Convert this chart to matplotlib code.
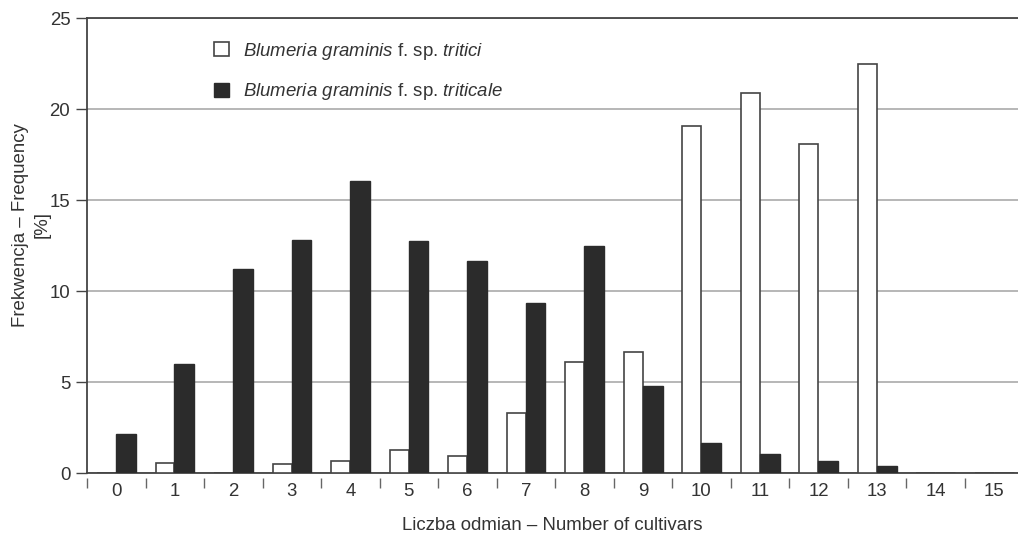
import matplotlib
matplotlib.use("Agg")
import matplotlib.pyplot as plt
import numpy as np
from matplotlib.patches import Patch

plt.rcParams['font.family'] = ['Liberation Sans', 'DejaVu Sans']
plt.rcParams['mathtext.fontset'] = 'custom'
plt.rcParams['mathtext.rm'] = 'Liberation Sans'
plt.rcParams['mathtext.it'] = 'Liberation Sans:italic'

categories = list(range(16))
tick_labels = [str(c) for c in categories]
tritici = [0, 0.58, 0, 0.5, 0.69, 1.27, 0.97, 3.3, 6.1, 6.65, 19.1, 20.9, 18.1, 22.5, 0, 0]
triticale = [2.15, 6.0, 11.25, 12.8, 16.05, 12.75, 11.65, 9.35, 12.5, 4.8, 1.65, 1.05, 0.7, 0.42, 0, 0]

label_tritici = r"$\it{Blumeria\ graminis}$ f. sp. $\it{tritici}$"
label_triticale = r"$\it{Blumeria\ graminis}$ f. sp. $\it{triticale}$"

W, H = 1018, 535
FS = 13.4
fig = plt.figure(figsize=(W / 100, H / 100), dpi=100)
ax = fig.add_axes([87 / W, (H - 473.3) / H, (W - 87) / W, (473.3 - 18.3) / H])

x = np.arange(len(categories))
dark = '#444444'
black_fill = '#2b2b2b'
text_col = '#333333'
ax.bar(x - 0.165, tritici, width=0.32, color='white', edgecolor=dark, linewidth=1.2, zorder=3)
ax.bar(x + 0.165, triticale, width=0.34, color=black_fill, edgecolor=black_fill, linewidth=1.0, zorder=3)

ax.set_xlim(-0.5, 15.41)
ax.set_ylim(0, 25)
ax.set_yticks([0, 5, 10, 15, 20, 25])
ax.yaxis.grid(True, color='#aaaaaa', linewidth=1.2, zorder=0)
ax.set_axisbelow(True)

for s in ['left', 'top', 'bottom']:
    ax.spines[s].set_color(dark)
    ax.spines[s].set_linewidth(1.3)
ax.spines['right'].set_visible(False)

ax.set_xticks(x)
ax.set_xticklabels(tick_labels)
ax.tick_params(axis='x', length=0, pad=7, labelsize=FS, labelcolor=text_col)
ax.tick_params(axis='y', length=8, width=1.0, color=dark, labelsize=FS, labelcolor=text_col, pad=4)

# separator tick marks between categories, below the axis
bounds = np.arange(-0.5, 15.0, 1.0)
ax.vlines(bounds, -0.01, -0.033, transform=ax.get_xaxis_transform(), colors='#666666',
          linewidth=1.0, clip_on=False)

ax.set_xlabel("Liczba odmian – Number of cultivars", fontsize=FS, color=text_col, labelpad=12)
ax.set_ylabel("Frekwencja – Frequency\n[%]", fontsize=FS, color=text_col, linespacing=1.3)
ax.yaxis.set_label_coords(-0.0395, 0.546)

handles = [Patch(facecolor='white', edgecolor=dark, linewidth=1.2),
           Patch(facecolor=black_fill, edgecolor=black_fill)]
fig.legend(handles, [label_tritici, label_triticale], loc='upper left',
           bbox_to_anchor=(197 / W, 1 - 24 / H), frameon=False, fontsize=FS,
           handlelength=0.8, handleheight=0.8, handletextpad=0.75, labelspacing=1.05,
           labelcolor=text_col)

fig.savefig('out.png', dpi=100)
